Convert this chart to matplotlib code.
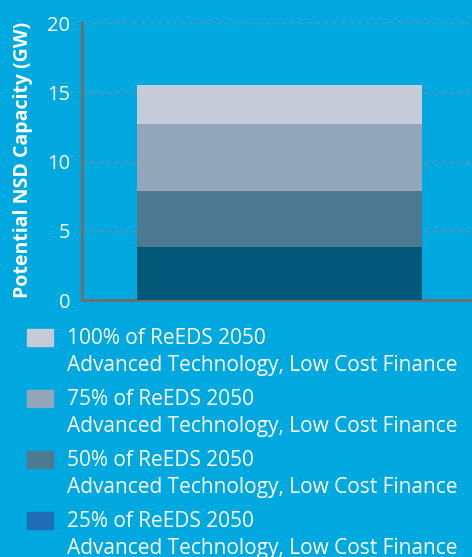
import matplotlib

matplotlib.use("Agg")
import matplotlib.pyplot as plt
from matplotlib.patches import Rectangle

# cumulative capacity (GW) for each scenario
scenarios = ["100% of ReEDS 2050", "75% of ReEDS 2050", "50% of ReEDS 2050", "25% of ReEDS 2050"]
subtitle = "Advanced Technology, Low Cost Finance"
capacity = [15.5, 12.7, 7.9, 3.8]
bar_colors = ["#C5CBD8", "#93A5B8", "#4D7993", "#035779"]
legend_colors = ["#C5CBD8", "#93A5B8", "#4D7993", "#1F6EB5"]
yticks = [0, 5, 10, 15, 20]

BG = "#00A8E0"
GRAY = "#6D6E71"

plt.rcParams["font.family"] = ["Open Sans", "DejaVu Sans"]

fig = plt.figure(figsize=(4.72, 5.57), dpi=100, facecolor=BG)
ax = fig.add_axes([0.1737, 0.4614, 0.8263, 0.4973])
ax.set_facecolor(BG)

for val, col in zip(capacity, bar_colors):
    ax.bar(0.506, val, width=0.731, color=col, zorder=3)

ax.set_xlim(0, 1)
ax.set_ylim(0, 20)
ax.set_yticks(yticks)
ax.set_xticks([])
ax.tick_params(axis="y", length=0, pad=8.5, labelsize=14.5, labelcolor="white")
ax.yaxis.grid(True, linestyle=(0, (3, 3)), color="#7A8A99", linewidth=1, zorder=0)
ax.set_axisbelow(True)

for s in ["top", "right"]:
    ax.spines[s].set_visible(False)
for s in ["left", "bottom"]:
    ax.spines[s].set_color(GRAY)
    ax.spines[s].set_linewidth(2.2)

ax.set_ylabel("Potential NSD Capacity (GW)", color="white", fontsize=14,
              fontweight="bold")
ax.yaxis.set_label_coords(-0.126, 0.505)

# legend drawn by hand
W, H = 472, 557
row0 = 329
step = 61
for i, (name, col) in enumerate(zip(scenarios, legend_colors)):
    top = row0 + i * step
    fig.patches.append(Rectangle((27 / W, 1 - (top + 17) / H), 26 / W, 17 / H,
                                 transform=fig.transFigure, color=col))
    fig.text(67 / W, 1 - (top + 15) / H, name, color="white", fontsize=15,
             va="baseline")
    fig.text(67 / W, 1 - (top + 42) / H, subtitle, color="white", fontsize=15,
             va="baseline")

fig.savefig("out.png", dpi=100, facecolor=BG)
